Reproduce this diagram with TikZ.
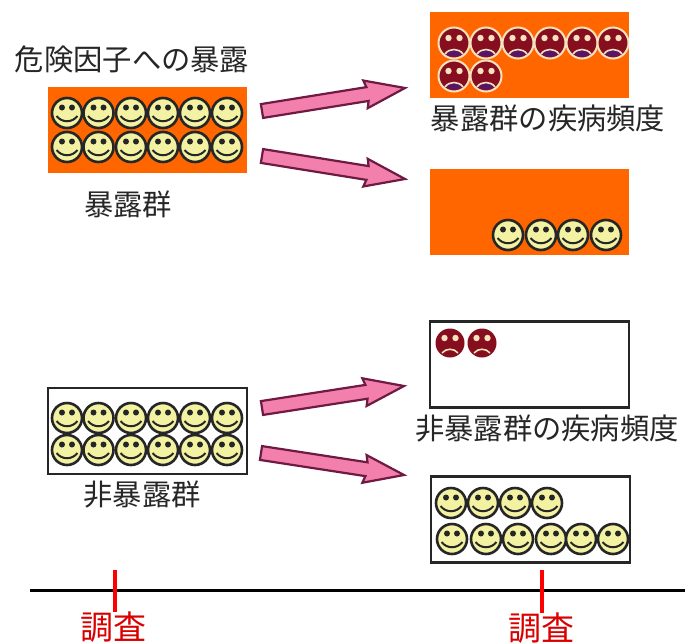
\documentclass[tikz,border=0pt]{standalone}
\usepackage{fontspec}
\usepackage{xcolor}
\usepackage{tikz}
\usetikzlibrary{calc}
\setmainfont{Noto Sans CJK JP}
\definecolor{boxorange}{HTML}{FF6600}
\definecolor{armpink}{HTML}{F27FAC}
\definecolor{armedge}{HTML}{6E1A42}
\definecolor{smileface}{HTML}{F3F2A2}
\definecolor{sadface}{HTML}{860E1E}
\definecolor{sadrim}{HTML}{F6E2BE}
\tikzset{
	smile/.pic={
		\draw[fill=smileface, draw=black!85, line width=2.6pt] (0,0) circle (15);
		\fill[black!85] (-5,-5.5) circle (3) (5,-5.5) circle (3);
		\draw[black!85, line width=2pt] (-10.5,3) .. controls (-5,10) and (5,10) .. (10.5,3);
	},
	frown/.pic={
		\draw[fill=sadface, draw=sadrim, line width=2pt] (0,0) circle (15.5);
		\fill[sadrim] (-5.5,-5) circle (3.2) (5.5,-5) circle (3.2);
		\fill[armedge!80!blue] (-9,11) .. controls (-5,5) and (5,5) .. (9,11) .. controls (4,14) and (-4,14) .. (-9,11);
		\draw[sadrim, line width=1.6pt] (-9,11) .. controls (-5,5) and (5,5) .. (9,11);
	},
	redfrown/.pic={
		\fill[sadface] (0,0) circle (14.5);
		\fill[sadrim] (-5.5,-5) circle (3.2) (5.5,-5) circle (3.2);
		\draw[sadrim, line width=1.6pt] (-8,10) .. controls (-4,5) and (4,5) .. (8,10);
	}
}
\begin{document}
\begin{tikzpicture}[x=1pt,y=-1pt]
	\tikzstyle{GrpBox} = [rectangle, inner sep=0pt, outer sep=0pt, minimum width=199pt, minimum height=86pt]
	\tikzstyle{Exposed} = [GrpBox, fill=boxorange]
	\tikzstyle{Plain} = [GrpBox, draw=black!85, line width=2.4pt]
	\tikzstyle{Caption} = [inner sep=0pt, text=black!85, font=\fontsize{29.3}{31}\selectfont]
	\tikzstyle{Survey} = [inner sep=0pt, text=red!85!black, font=\fontsize{33}{35}\selectfont]
	\tikzstyle{Arm} = [draw=armedge, fill=armpink, line width=2.2pt, line join=miter,
		to path={($(\tikztostart)!7pt!90:(\tikztotarget)$)
			-- ($(\tikztotarget)!38pt!(\tikztostart)!7pt!90:(\tikztotarget)$)
			-- ($(\tikztotarget)!40pt!(\tikztostart)!14pt!90:(\tikztotarget)$)
			-- (\tikztotarget)
			-- ($(\tikztotarget)!40pt!(\tikztostart)!14pt!-90:(\tikztotarget)$)
			-- ($(\tikztotarget)!38pt!(\tikztostart)!7pt!-90:(\tikztotarget)$)
			-- ($(\tikztostart)!7pt!-90:(\tikztotarget)$) -- cycle}]
	\useasboundingbox (0,0) rectangle (685,643);

	% boxes
	\node[Exposed] (expStart) at (147.5,130) {};
	\node[Exposed] (expSick) at (529.5,55) {};
	\node[Exposed] (expWell) at (529.5,212) {};
	\node[Plain] (nonStart) at (147.5,431) {};
	\node[Plain] (nonSick) at (529.5,364.5) {};
	\node[Plain] (nonWell) at (530.5,519.5) {};

	% faces
	\foreach \x in {67,98.5,131,163,195,227} {
		\pic at (\x,113) {smile};
		\pic at (\x,147) {smile};
		\pic at (\x,418) {smile};
		\pic at (\x,450) {smile};
	}
	\foreach \x in {454,486,518,550,582,613}
		\pic at (\x,43) {frown};
	\foreach \x in {454,486}
		\pic at (\x,76) {frown};
	\foreach \x in {508,541,573,606}
		\pic at (\x,235) {smile};
	\foreach \x in {450,482}
		\pic at (\x,343) {redfrown};
	\foreach \x in {451,483,515,547}
		\pic at (\x,503) {smile};
	\foreach \x in {452,486,518,551,581,613}
		\pic at (\x,539) {smile};

	% captions
	\node[Caption] (expRisk) at (132,59) {危険因子への暴露};
	\node[Caption] (expName) at (128,204) {暴露群};
	\node[Caption] (expFreq) at (548,118) {暴露群の疾病頻度};
	\node[Caption] (nonName) at (142,495) {非暴露群};
	\node[Caption] (nonFreq) at (547,429) {非暴露群の疾病頻度};

	% arms
	\coordinate (expTailA) at (262,111);
	\coordinate (expTipA) at (405,88);
	\coordinate (expTailB) at (262,156);
	\coordinate (expTipB) at (405,179);
	\coordinate (nonTailA) at (262,408);
	\coordinate (nonTipA) at (404,386);
	\coordinate (nonTailB) at (261,453);
	\coordinate (nonTipB) at (404,475);
	\draw[Arm] (expTailA) to (expTipA);
	\draw[Arm] (expTailB) to (expTipB);
	\draw[Arm] (nonTailA) to (nonTipA);
	\draw[Arm] (nonTailB) to (nonTipB);

	% time line
	\coordinate (lineStart) at (30,590);
	\coordinate (lineEnd) at (685,590);
	\draw[black, line width=3pt] (lineStart) -- (lineEnd);
	\node[Survey] (surveyA) at (113,627) {調査};
	\node[Survey] (surveyB) at (541,628) {調査};
	\coordinate (tickA) at (115,570);
	\coordinate (tickB) at (542,570);
	\draw[red, line width=4pt] (tickA) -- (tickA |- surveyA.north);
	\draw[red, line width=4pt] (tickB) -- (tickB |- surveyB.north);
\end{tikzpicture}
\end{document}
